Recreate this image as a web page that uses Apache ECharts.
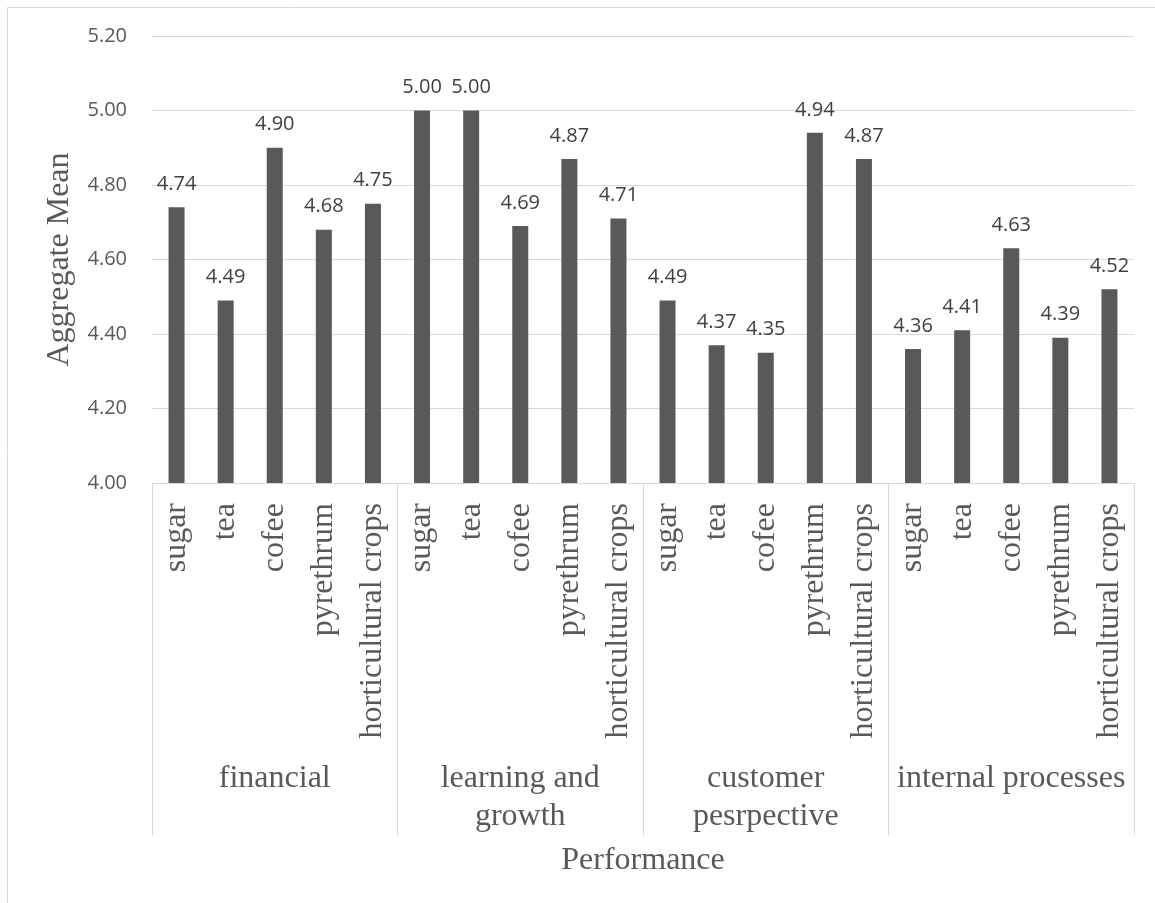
<!DOCTYPE html>
<html>
<head>
<meta charset="utf-8">
<title>Aggregate Mean by Performance</title>
<script src="https://cdn.jsdelivr.net/npm/echarts@6/dist/echarts.min.js"></script>
<style>
  html, body { margin: 0; padding: 0; background: #ffffff; }
  #chart { width: 1155px; height: 903px; }
</style>
</head>
<body>
<div id="chart"></div>
<script>
// Crop sectors within each performance perspective
const crops = ['sugar', 'tea', 'cofee', 'pyrethrum', 'horticultural crops'];
// Performance perspectives (outer category level)
const perspectives = ['financial', 'learning and\ngrowth', 'customer\npesrpective', 'internal processes'];
// Aggregate mean per perspective, in crop order
const financial = [4.74, 4.49, 4.90, 4.68, 4.75];
const learningGrowth = [5.00, 5.00, 4.69, 4.87, 4.71];
const customerPerspective = [4.49, 4.37, 4.35, 4.94, 4.87];
const internalProcesses = [4.36, 4.41, 4.63, 4.39, 4.52];
// Value axis ticks
const yTicks = [4.00, 4.20, 4.40, 4.60, 4.80, 5.00, 5.20];

const groupValues = [financial, learningGrowth, customerPerspective, internalProcesses];
const categories = [];
const values = [];
groupValues.forEach(function (g) {
  g.forEach(function (v, i) {
    categories.push(crops[i]);
    values.push(v);
  });
});

const SERIF = '"Liberation Serif", "Times New Roman", serif';
const SANS = '"Open Sans", "Noto Sans", sans-serif';
const GRID_COLOR = '#d9d9d9';
const TEXT_COLOR = '#595959';

const chart = echarts.init(document.getElementById('chart'), null, { renderer: 'canvas' });

chart.setOption({
  backgroundColor: '#ffffff',
  animation: false,
  graphic: [{
    type: 'rect',
    silent: true,
    shape: { x: 7.5, y: 7.5, width: 1300, height: 1000 },
    style: { fill: 'none', stroke: GRID_COLOR, lineWidth: 1 }
  }],
  grid: { left: 152, right: 21, top: 36, bottom: 420, containLabel: false },
  xAxis: [{
    type: 'category',
    data: categories,
    position: 'bottom',
    axisLine: { show: true, lineStyle: { color: GRID_COLOR, width: 1 } },
    axisTick: { show: false },
    axisLabel: {
      interval: 0,
      rotate: 90,
      margin: 20,
      color: TEXT_COLOR,
      fontFamily: SERIF,
      fontSize: 32
    }
  }, {
    type: 'category',
    data: perspectives,
    position: 'bottom',
    offset: 0,
    axisLine: { show: false },
    axisTick: {
      show: true,
      interval: 0,
      length: 352,
      lineStyle: { color: GRID_COLOR, width: 1 }
    },
    axisLabel: {
      interval: 0,
      margin: 277,
      color: TEXT_COLOR,
      fontFamily: SERIF,
      fontSize: 32,
      lineHeight: 38
    },
    name: 'Performance',
    nameLocation: 'middle',
    nameGap: 362,
    nameTextStyle: { color: TEXT_COLOR, fontFamily: SERIF, fontSize: 32 }
  }],
  yAxis: {
    type: 'value',
    min: yTicks[0],
    max: yTicks[yTicks.length - 1],
    interval: 0.2,
    axisLine: { show: false },
    axisTick: { show: false },
    splitLine: { show: true, lineStyle: { color: GRID_COLOR, width: 1 } },
    axisLabel: {
      margin: 25,
      color: TEXT_COLOR,
      fontFamily: SANS,
      fontSize: 20,
      formatter: function (v) { return v.toFixed(2); }
    },
    name: 'Aggregate Mean',
    nameLocation: 'middle',
    nameRotate: 90,
    nameGap: 76,
    nameTextStyle: { color: TEXT_COLOR, fontFamily: SERIF, fontSize: 32 }
  },
  series: [{
    type: 'bar',
    xAxisIndex: 0,
    data: values,
    barWidth: 16,
    itemStyle: { color: '#595959' },
    label: {
      show: true,
      position: 'top',
      distance: 13,
      color: '#404040',
      fontFamily: SANS,
      fontSize: 20,
      formatter: function (p) { return p.value.toFixed(2); }
    }
  }]
});
</script>
</body>
</html>
